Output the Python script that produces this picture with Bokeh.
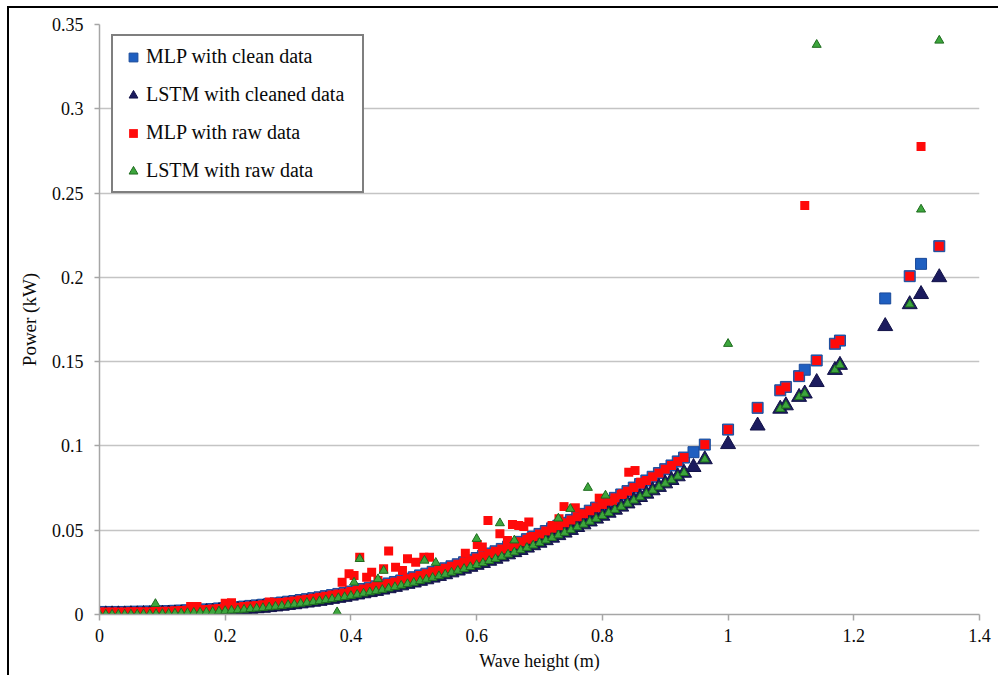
from bokeh.plotting import figure
from bokeh.models import Range1d, FixedTicker, Legend, LegendItem
from bokeh.embed import file_html
from bokeh.resources import INLINE

# ---------------- data ----------------
wave_height_dense = [
    0.00, 0.01, 0.02, 0.03, 0.04, 0.05, 0.06, 0.07, 0.08, 0.09,
    0.10, 0.11, 0.12, 0.13, 0.14, 0.15, 0.16, 0.17, 0.18, 0.19,
    0.20, 0.21, 0.22, 0.23, 0.24, 0.25, 0.26, 0.27, 0.28, 0.29,
    0.30, 0.31, 0.32, 0.33, 0.34, 0.35, 0.36, 0.37, 0.38, 0.39,
    0.40, 0.41, 0.42, 0.43, 0.44, 0.45, 0.46, 0.47, 0.48, 0.49,
    0.50, 0.51, 0.52, 0.53, 0.54, 0.55, 0.56, 0.57, 0.58, 0.59,
    0.60, 0.61, 0.62, 0.63, 0.64, 0.65, 0.66, 0.67, 0.68, 0.69,
    0.70, 0.71, 0.72, 0.73, 0.74, 0.75, 0.76, 0.77, 0.78, 0.79,
    0.80, 0.81, 0.82, 0.83, 0.84, 0.85, 0.86, 0.87, 0.88, 0.89,
    0.90, 0.91, 0.92, 0.93,
]

mlp_clean_dense = [
    0.0015, 0.0015, 0.0015, 0.0015, 0.0015, 0.0016, 0.0016, 0.0017, 0.0017, 0.0018,
    0.0019, 0.0020, 0.0022, 0.0023, 0.0025, 0.0027, 0.0028, 0.0030, 0.0032, 0.0036,
    0.0038, 0.0041, 0.0043, 0.0047, 0.0051, 0.0054, 0.0058, 0.0062, 0.0066, 0.0071,
    0.0076, 0.0080, 0.0086, 0.0091, 0.0097, 0.0102, 0.0109, 0.0115, 0.0122, 0.0128,
    0.0136, 0.0144, 0.0151, 0.0159, 0.0167, 0.0175, 0.0184, 0.0193, 0.0202, 0.0212,
    0.0221, 0.0232, 0.0242, 0.0253, 0.0264, 0.0274, 0.0286, 0.0298, 0.0310, 0.0322,
    0.0335, 0.0347, 0.0362, 0.0375, 0.0389, 0.0403, 0.0417, 0.0431, 0.0447, 0.0462,
    0.0478, 0.0495, 0.0511, 0.0527, 0.0544, 0.0561, 0.0580, 0.0597, 0.0616, 0.0634,
    0.0653, 0.0672, 0.0692, 0.0712, 0.0732, 0.0753, 0.0774, 0.0795, 0.0817, 0.0839,
    0.0862, 0.0884, 0.0908, 0.0931,
]

lstm_clean_dense = [
    0.0000, 0.0000, 0.0000, 0.0000, 0.0000, 0.0001, 0.0001, 0.0002, 0.0002, 0.0003,
    0.0004, 0.0005, 0.0006, 0.0007, 0.0009, 0.0011, 0.0012, 0.0014, 0.0016, 0.0019,
    0.0021, 0.0024, 0.0026, 0.0029, 0.0033, 0.0036, 0.0039, 0.0043, 0.0047, 0.0051,
    0.0056, 0.0060, 0.0065, 0.0070, 0.0075, 0.0080, 0.0086, 0.0092, 0.0098, 0.0104,
    0.0111, 0.0118, 0.0125, 0.0132, 0.0139, 0.0147, 0.0155, 0.0163, 0.0172, 0.0181,
    0.0189, 0.0199, 0.0208, 0.0218, 0.0228, 0.0238, 0.0249, 0.0260, 0.0271, 0.0282,
    0.0294, 0.0305, 0.0318, 0.0330, 0.0343, 0.0356, 0.0369, 0.0382, 0.0396, 0.0410,
    0.0425, 0.0440, 0.0455, 0.0470, 0.0485, 0.0501, 0.0518, 0.0534, 0.0551, 0.0568,
    0.0585, 0.0603, 0.0621, 0.0639, 0.0658, 0.0677, 0.0696, 0.0716, 0.0736, 0.0756,
    0.0777, 0.0797, 0.0819, 0.0840,
]

mlp_clean_h_hi = [0.945, 0.963, 1.0, 1.047, 1.083, 1.092, 1.113, 1.122, 1.141, 1.17, 1.178, 1.25, 1.289, 1.307, 1.336]
mlp_clean_p_hi = [0.0963, 0.1008, 0.1097, 0.1226, 0.1330, 0.1350, 0.1414, 0.1452, 0.1507, 0.1606, 0.1625, 0.1875, 0.2007, 0.2080, 0.2185]

lstm_clean_h_hi = [0.945, 0.963, 1.0, 1.047, 1.083, 1.092, 1.113, 1.122, 1.141, 1.17, 1.178, 1.25, 1.289, 1.307, 1.336]
lstm_clean_p_hi = [0.0874, 0.0920, 0.1010, 0.1120, 0.1220, 0.1240, 0.1290, 0.1310, 0.1378, 0.1450, 0.1480, 0.1710, 0.1840, 0.1900, 0.2000]

mlp_raw_h_hi = [0.963, 1.0, 1.047, 1.083, 1.092, 1.113, 1.122, 1.141, 1.17, 1.178, 1.289, 1.307, 1.336]
mlp_raw_p_hi = [0.1008, 0.1097, 0.1226, 0.1330, 0.1350, 0.1414, 0.2426, 0.1507, 0.1606, 0.1625, 0.2007, 0.2776, 0.2185]

lstm_raw_h_hi = [0.963, 1.0, 1.083, 1.092, 1.113, 1.122, 1.141, 1.17, 1.178, 1.289, 1.307, 1.336]
lstm_raw_p_hi = [0.0920, 0.1606, 0.1220, 0.1240, 0.1290, 0.1310, 0.3380, 0.1450, 0.1480, 0.1840, 0.2403, 0.3405]

mlp_raw_h_out = [0.145, 0.155, 0.20, 0.21, 0.27, 0.28, 0.386, 0.397, 0.405, 0.414, 0.425, 0.433,
                 0.443, 0.452, 0.460, 0.471, 0.482, 0.490, 0.503, 0.516, 0.525, 0.582, 0.601,
                 0.609, 0.618, 0.637, 0.649, 0.657, 0.667, 0.675, 0.683, 0.686, 0.720, 0.731,
                 0.739, 0.757, 0.795, 0.816, 0.832, 0.842, 0.852, 0.861]
mlp_raw_p_out = [0.0047, 0.0048, 0.0066, 0.0070, 0.0074, 0.0070, 0.0192, 0.0241, 0.0231, 0.0340,
                 0.0221, 0.0251, 0.0202, 0.0271, 0.0376, 0.0281, 0.0261, 0.0330, 0.0310, 0.0340,
                 0.0340, 0.0364, 0.0415, 0.0400, 0.0558, 0.0479, 0.0439, 0.0534, 0.0528, 0.0522,
                 0.0548, 0.0459, 0.0528, 0.0568, 0.0640, 0.0633, 0.0690, 0.0676, 0.0716, 0.0844,
                 0.0854, 0.0785]

lstm_raw_h_out = [0.089, 0.378, 0.405, 0.414, 0.443, 0.452, 0.517, 0.535, 0.600, 0.637, 0.660,
                  0.730, 0.749, 0.777, 0.805]
lstm_raw_p_out = [0.0063, 0.0014, 0.0190, 0.0330, 0.0210, 0.0260, 0.0320, 0.0307, 0.0449, 0.0542,
                  0.0440, 0.0570, 0.0627, 0.0752, 0.0706]

x_ticks = [0, 0.2, 0.4, 0.6, 0.8, 1.0, 1.2, 1.4]
x_tick_labels = ["0", "0.2", "0.4", "0.6", "0.8", "1", "1.2", "1.4"]
y_ticks = [0, 0.05, 0.1, 0.15, 0.2, 0.25, 0.3, 0.35]
y_tick_labels = ["0", "0.05", "0.1", "0.15", "0.2", "0.25", "0.3", "0.35"]

series_labels = ["MLP with clean data", "LSTM with cleaned data", "MLP with raw data", "LSTM with raw data"]

# ---------------- figure ----------------
FONT = "Liberation Serif"
W, H = 998, 675
p = figure(width=W, height=H, output_backend="svg", toolbar_location=None,
           x_range=Range1d(0, 1.4), y_range=Range1d(0, 0.35),
           min_border_left=99, min_border_right=19, min_border_top=24, min_border_bottom=61)
p.outline_line_color = None
p.background_fill_color = "white"
p.border_fill_alpha = 0
# thin black picture frame along the top and left edges
p.styles = {"background-color": "white",
            "box-shadow": "inset 7px 6px 0 0 white, inset 9px 8px 0 0 black"}

p.xgrid.visible = False
p.ygrid.grid_line_color = "#C4C4C4"
p.ygrid.grid_line_width = 1.5

for ax in (p.xaxis[0], p.yaxis[0]):
    ax.axis_line_color = "#A6A6A6"
    ax.axis_line_width = 1.5
    ax.major_tick_line_color = "#A6A6A6"
    ax.major_tick_line_width = 1.5
    ax.minor_tick_line_color = None
    ax.major_tick_in = 0
    ax.major_label_text_font = FONT
    ax.major_label_text_color = "#0A0A0A"
    ax.axis_label_text_font = FONT
    ax.axis_label_text_font_style = "normal"
    ax.axis_label_text_color = "#0A0A0A"

p.xaxis.ticker = FixedTicker(ticks=x_ticks)
p.xaxis.major_label_overrides = {t: s for t, s in zip(x_ticks, x_tick_labels)}
p.xaxis.major_tick_out = 6
p.xaxis.major_label_standoff = 8
p.xaxis.major_label_text_font_size = "18px"
p.xaxis.axis_label = "Wave height (m)"
p.xaxis.axis_label_text_font_size = "18px"
p.xaxis.axis_label_standoff = 6

p.yaxis.ticker = FixedTicker(ticks=y_ticks)
p.yaxis.major_label_overrides = {t: s for t, s in zip(y_ticks, y_tick_labels)}
p.yaxis.major_tick_out = 5
p.yaxis.major_label_standoff = 11
p.yaxis.major_label_text_font_size = "18px"
p.yaxis.axis_label = "Power (kW)"
p.yaxis.axis_label_text_font_size = "19px"
p.yaxis.axis_label_standoff = 9

r_mlp_clean = p.scatter(wave_height_dense + mlp_clean_h_hi, mlp_clean_dense + mlp_clean_p_hi,
                        marker="square", size=11, fill_color="#1F5FC0", line_color="#1A4A9A", line_width=1)
r_lstm_clean = p.scatter(wave_height_dense + lstm_clean_h_hi, lstm_clean_dense + lstm_clean_p_hi,
                         marker="triangle", size=15, fill_color="#1B1B5E", line_color="#121248", line_width=1)
r_mlp_raw = p.scatter(wave_height_dense + mlp_raw_h_hi + mlp_raw_h_out,
                      mlp_clean_dense + mlp_raw_p_hi + mlp_raw_p_out,
                      marker="square", size=9, fill_color="#FF0A0A", line_color=None)
r_lstm_raw = p.scatter(wave_height_dense + lstm_raw_h_hi + lstm_raw_h_out,
                       lstm_clean_dense + lstm_raw_p_hi + lstm_raw_p_out,
                       marker="triangle", size=9, fill_color="#3DA63D", line_color="#1E6B1E", line_width=1)

legend = Legend(items=[LegendItem(label=series_labels[0], renderers=[r_mlp_clean]),
                       LegendItem(label=series_labels[1], renderers=[r_lstm_clean]),
                       LegendItem(label=series_labels[2], renderers=[r_mlp_raw]),
                       LegendItem(label=series_labels[3], renderers=[r_lstm_raw])],
                location=(12, 421))
legend.border_line_color = "black"
legend.border_line_width = 2.5
legend.background_fill_color = "white"
legend.background_fill_alpha = 1
legend.label_text_font = FONT
legend.label_text_font_size = "20px"
legend.label_text_color = "#0A0A0A"
legend.padding = 9
legend.spacing = 15
legend.label_height = 22
legend.glyph_height = 22
legend.glyph_width = 22
legend.label_standoff = 2
legend.label_width = 207
legend.margin = 0
p.add_layout(legend)

open("out.html", "w").write(file_html(p, INLINE))
